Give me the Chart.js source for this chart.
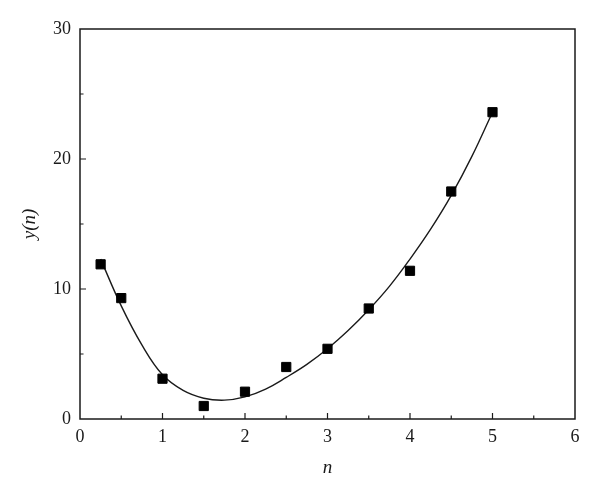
<!DOCTYPE html>
<html>
<head>
<meta charset="utf-8">
<script src="https://cdn.jsdelivr.net/npm/chart.js@4/dist/chart.umd.min.js"></script>
<style>
  html, body { margin: 0; padding: 0; background: #fff; }
  #wrap { width: 600px; height: 493px; }
</style>
</head>
<body>
<div id="wrap"><canvas id="c"></canvas></div>
<script>
// measured points
const nValues = [0.25, 0.5, 1, 1.5, 2, 2.5, 3, 3.5, 4, 4.5, 5];
const yValues = [11.9, 9.3, 3.1, 1.0, 2.1, 4.0, 5.4, 8.5, 11.4, 17.5, 23.6];

// fitted curve
const fitN = [0.25, 0.5, 0.75, 1, 1.25, 1.5, 1.75, 2, 2.25, 2.5, 2.75, 3, 3.25, 3.5, 3.75, 4, 4.25, 4.5, 4.75, 5];
const fitY = [12.3, 8.7, 5.7, 3.4, 2.2, 1.6, 1.45, 1.7, 2.3, 3.2, 4.2, 5.4, 6.8, 8.4, 10.2, 12.3, 14.6, 17.2, 20.2, 23.6];

const xTicks = [0, 1, 2, 3, 4, 5, 6];
const yTicks = [0, 10, 20, 30];

const ink = '#1a1a1a';
const serif = '"Liberation Serif", "DejaVu Serif", serif';

// frame + inward ticks, like the original plot
const frameTicks = {
  id: 'frameTicks',
  afterDraw(chart) {
    const { ctx, chartArea: a, scales } = chart;
    const x = scales.x, y = scales.y;
    ctx.save();
    ctx.strokeStyle = ink;
    ctx.lineWidth = 1.5;
    ctx.strokeRect(a.left, a.top, a.right - a.left, a.bottom - a.top);
    ctx.lineWidth = 1.2;
    ctx.beginPath();
    for (let v = 0.5; v < 6; v += 0.5) {
      const px = x.getPixelForValue(v);
      const len = Number.isInteger(v) ? 6 : 3.5;
      ctx.moveTo(px, a.bottom);
      ctx.lineTo(px, a.bottom - len);
    }
    for (let v = 5; v < 30; v += 5) {
      const py = y.getPixelForValue(v);
      const len = v % 10 === 0 ? 6 : 3.5;
      ctx.moveTo(a.left, py);
      ctx.lineTo(a.left + len, py);
    }
    ctx.stroke();
    ctx.restore();
  }
};

new Chart(document.getElementById('c'), {
  type: 'scatter',
  data: {
    datasets: [
      {
        label: 'fit',
        data: fitN.map((n, i) => ({ x: n, y: fitY[i] })),
        showLine: true,
        borderColor: ink,
        borderWidth: 1.4,
        pointRadius: 0,
        tension: 0.4,
        order: 2
      },
      {
        label: 'y(n)',
        data: nValues.map((n, i) => ({ x: n, y: yValues[i] })),
        pointStyle: 'rect',
        pointRadius: 6.5,
        pointBackgroundColor: '#000',
        pointBorderColor: '#000',
        pointBorderWidth: 1,
        order: 1
      }
    ]
  },
  options: {
    responsive: true,
    maintainAspectRatio: false,
    animation: false,
    layout: { padding: { top: 29, right: 25, left: 0, bottom: 0 } },
    plugins: { legend: { display: false }, tooltip: { enabled: false } },
    scales: {
      x: {
        type: 'linear',
        min: 0, max: 6,
        afterBuildTicks: s => { s.ticks = xTicks.map(v => ({ value: v })); },
        afterFit: s => { s.height = 74; },
        grid: { display: false, drawTicks: false },
        border: { display: false },
        ticks: { color: ink, padding: 7, font: { family: serif, size: 18 } },
        title: {
          display: true, text: 'n', color: ink,
          font: { family: serif, size: 19, style: 'italic' },
          padding: { top: 0, bottom: 14 }
        }
      },
      y: {
        type: 'linear',
        min: 0, max: 30,
        afterBuildTicks: s => { s.ticks = yTicks.map(v => ({ value: v })); },
        afterFit: s => { s.width = 80; },
        grid: { display: false, drawTicks: false },
        border: { display: false },
        ticks: { color: ink, padding: 9, font: { family: serif, size: 18 } },
        title: {
          display: true, text: 'y(n)', color: ink,
          font: { family: serif, size: 19, style: 'italic' },
          padding: { top: 19, bottom: 0 }
        }
      }
    }
  },
  plugins: [frameTicks]
});
</script>
</body>
</html>
